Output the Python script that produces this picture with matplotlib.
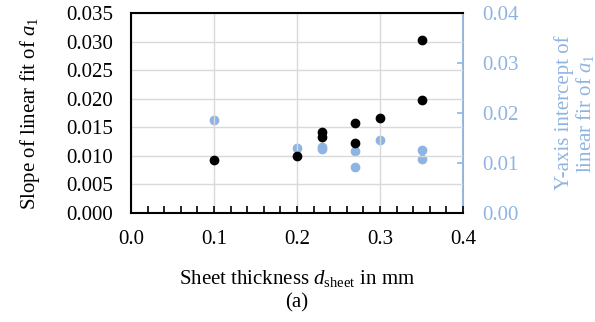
import matplotlib
matplotlib.use("Agg")
import matplotlib.pyplot as plt
from matplotlib.ticker import MultipleLocator, FormatStrFormatter

plt.rcParams['font.family'] = ['Liberation Serif', 'DejaVu Serif']
plt.rcParams['mathtext.fontset'] = 'custom'
plt.rcParams['mathtext.rm'] = 'Liberation Serif'
plt.rcParams['mathtext.it'] = 'Liberation Serif:italic'

# Data
thickness_slope = [0.10, 0.20, 0.23, 0.23, 0.27, 0.27, 0.30, 0.35, 0.35]
slope = [0.0093, 0.0100, 0.0141, 0.0133, 0.0158, 0.0123, 0.0166, 0.0302, 0.0198]
thickness_int = [0.10, 0.20, 0.23, 0.23, 0.27, 0.27, 0.30, 0.35, 0.35]
intercept = [0.0186, 0.0131, 0.0133, 0.0129, 0.0124, 0.0093, 0.0146, 0.0127, 0.0109]

blue = '#8db4e2'
fs = 15

fig = plt.figure(figsize=(5.95, 3.22), dpi=100)
ax = fig.add_axes([131/595, 1-213/322, (463-131)/595, (213-13)/322])
ax2 = ax.twinx()

ax.set_xlim(0, 0.4)
ax.set_ylim(0, 0.035)
ax2.set_ylim(0, 0.04)

ax.xaxis.set_major_locator(MultipleLocator(0.1))
ax.xaxis.set_minor_locator(MultipleLocator(0.02))
ax.yaxis.set_major_locator(MultipleLocator(0.005))
ax.xaxis.set_major_formatter(FormatStrFormatter('%.1f'))
ax.yaxis.set_major_formatter(FormatStrFormatter('%.3f'))
ax2.yaxis.set_major_locator(MultipleLocator(0.01))
ax2.yaxis.set_major_formatter(FormatStrFormatter('%.2f'))

ax.grid(True, which='major', color='#d9d9d9', linewidth=1.0)
ax.set_axisbelow(True)

ax.tick_params(axis='x', which='both', direction='in', length=5, width=1.2, labelsize=fs, pad=12, top=False)
ax.tick_params(axis='y', which='both', length=0, labelsize=fs, pad=13)
ax2.tick_params(axis='y', direction='in', length=4, width=1.2, colors=blue, labelsize=fs, pad=14)

for s in ['left', 'bottom', 'top']:
    ax.spines[s].set_linewidth(1.5)
    ax.spines[s].set_color('black')
ax2.spines['top'].set_visible(False)
ax2.spines['left'].set_visible(False)
ax2.spines['bottom'].set_visible(False)
ax.spines['right'].set_visible(False)
ax2.spines['right'].set_color(blue)
ax2.spines['right'].set_linewidth(1.5)

ax2.plot(thickness_int, intercept, 'o', color=blue, ms=6, zorder=3)
ax.plot(thickness_slope, slope, 'o', color='black', ms=6, zorder=4)
ax.set_zorder(ax2.get_zorder() + 1)
ax.patch.set_visible(False)

ax.set_ylabel('Slope of linear fit of $a_1$', fontsize=fs, labelpad=17)
ax2.set_ylabel('Y-axis intercept of\nlinear fir of $a_1$', fontsize=fs, color=blue,
               labelpad=25, linespacing=1.0)
ax.set_xlabel('Sheet thickness $d_{\\mathrm{sheet}}$ in mm', fontsize=fs, labelpad=14)
fig.text((131+463)/2/595, 1-303/322, '(a)', ha='center', va='center', fontsize=fs)

fig.savefig('out.png', dpi=100)
